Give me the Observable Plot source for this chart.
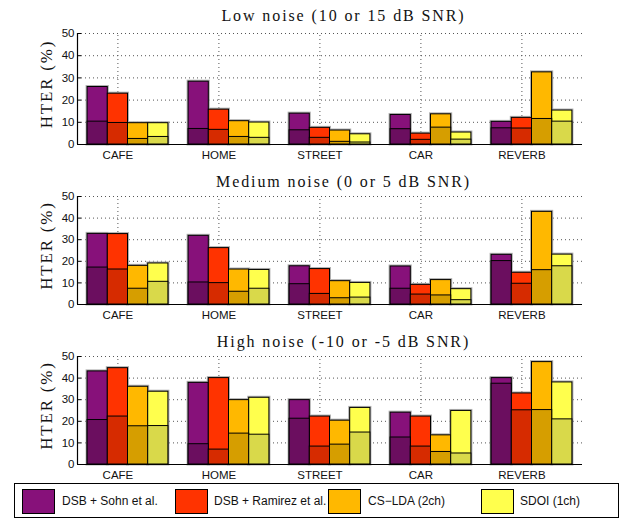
<!DOCTYPE html>
<html><head><meta charset="utf-8">
<script src="https://cdn.jsdelivr.net/npm/d3@7"></script>
<script src="https://cdn.jsdelivr.net/npm/@observablehq/plot@0.6"></script>
<style>
body{margin:0;background:#fff;}
#wrap{position:relative;width:624px;height:521px;background:#fff;}
#wrap svg{display:block;}
.legend{position:absolute;left:14px;top:483px;width:605px;height:35px;border:1px solid #000;box-sizing:border-box;background:#fff;}
.sw{position:absolute;top:5px;width:33px;height:25px;border:1px solid #000;box-sizing:border-box;}
.lt{position:absolute;top:10px;font:12px "Liberation Sans",Arial,sans-serif;color:#111;white-space:nowrap;}
</style>
</head><body><div id="wrap"></div>
<script>
const categories = ["CAFE","HOME","STREET","CAR","REVERB"];
const methods = ["DSB + Sohn et al.","DSB + Ramirez et al.","CS\u2212LDA (2ch)","SDOI (1ch)"];
const titles = ["Low noise (10 or 15 dB SNR)","Medium noise (0 or 5 dB SNR)","High noise (-10 or -5 dB SNR)"];
const yLabel = "HTER (%)";
const yTicks = [0,10,20,30,40,50];
const lightColors = ["#87117A","#FF3300","#FFB800","#FFFF4D"];
const darkColors = ["#6B0E5F","#D62B00","#D69E00","#D9D94A"];

// rows: methods; columns: categories
const lowTotal = [[25.9,28.3,13.9,13.3,10.2],[22.9,15.7,7.5,4.9,12.0],[9.6,10.5,6.3,13.6,32.5],[9.6,9.9,4.6,5.4,15.3]];
const lowInner = [[10.3,7.0,6.4,6.9,7.3],[9.7,6.6,3.0,2.1,7.2],[2.5,3.4,1.2,7.6,11.5],[3.4,3.0,0.9,2.2,10.3]];
const medTotal = [[32.7,31.8,17.7,17.6,23.0],[32.6,26.1,16.4,9.1,14.7],[17.9,16.2,10.8,11.3,42.9],[19.0,16.0,10.0,7.1,23.1]];
const medInner = [[17.1,10.2,9.4,7.3,20.1],[16.2,9.9,4.9,4.6,9.6],[7.3,5.9,2.9,4.2,15.9],[10.5,7.3,3.2,2.0,17.7]];
const highTotal = [[43.1,37.8,29.8,24.0,40.0],[44.6,40.0,22.2,22.2,32.9],[36.0,29.8,20.3,13.5,47.4],[33.7,30.9,26.2,24.8,38.0]];
const highInner = [[20.6,9.4,21.2,12.5,37.4],[22.2,6.9,8.3,8.3,25.1],[17.7,14.3,9.2,5.8,25.2],[17.8,13.8,14.8,5.1,20.9]];

const serif = "'Liberation Serif','DejaVu Serif',serif";

function panel(title, total, inner, o) {
  const rows = [];
  methods.forEach((m, si) => categories.forEach((c, gi) => {
    const xc = gi + 1 + (si - 1) * 0.2;
    rows.push({x1: xc - 0.1, x2: xc + 0.1, total: total[si][gi], inner: inner[si][gi],
      light: lightColors[si], dark: darkColors[si]});
  }));
  const xd = [0.6, 5.6];
  const svg = Plot.plot({
    width: 624, height: o.height,
    marginLeft: 77, marginRight: 42, marginTop: o.top, marginBottom: o.bottom,
    style: {fontFamily: "'Liberation Sans',Arial,sans-serif", fontSize: "11px", background: "white", overflow: "visible"},
    x: {domain: xd, axis: null},
    y: {domain: [0, 50], axis: null},
    color: {type: "identity"},
    marks: [
      Plot.ruleY(yTicks.slice(1), {x1: xd[0], x2: xd[1], stroke: "#555", strokeDasharray: "1,3"}),
      Plot.ruleX(categories.map((c, i) => i + 1), {y1: 0, y2: 50, stroke: "#555", strokeDasharray: "1,3"}),
      Plot.rectY(rows, {x1: "x1", x2: "x2", y: "total", fill: "none", stroke: "#b0b0b0", strokeWidth: 3}),
      Plot.rectY(rows, {x1: "x1", x2: "x2", y: "total", fill: "light", stroke: "#000", strokeWidth: 1}),
      Plot.rectY(rows, {x1: "x1", x2: "x2", y: "inner", fill: "dark", stroke: "#000", strokeWidth: 1}),
      Plot.ruleY([0], {x1: xd[0], x2: xd[1], stroke: "#000", strokeWidth: 1.2}),
      Plot.ruleX([xd[0]], {y1: 0, y2: 50, stroke: "#000", strokeWidth: 1.2}),
      Plot.ruleY(yTicks, {x1: xd[0], x2: xd[0] + 0.04, stroke: "#000"}),
      Plot.text(yTicks, {x: xd[0], y: d => d, text: d => String(d), textAnchor: "end", dx: -3, fontSize: 11.5, fill: "#111"}),
      Plot.text(categories, {x: (d, i) => i + 1, y: 0, text: d => d, dy: 11, fontSize: 11.5, fill: "#111"}),
      Plot.text([title], {frameAnchor: "top", lineAnchor: "middle", textAnchor: "middle", dx: 13.5, dy: o.tdy, text: d => d, fontFamily: serif, fontSize: 16, fill: "#111"}),
      Plot.text([yLabel], {frameAnchor: "left", textAnchor: "middle", lineAnchor: "middle", dx: -31, dy: -5, rotate: -90, text: d => d, fontFamily: serif, fontSize: 17, fill: "#111"})
    ]
  });
  d3.select(svg).selectAll("text").each(function() {
    const t = this.textContent;
    if (t === title) d3.select(this).style("letter-spacing", "1.9px");
    else if (t === yLabel) d3.select(this).style("letter-spacing", "1.8px");
  });
  return svg;
}

const wrap = document.getElementById("wrap");
wrap.appendChild(panel(titles[0], lowTotal, lowInner, {height: 165, top: 33, bottom: 21, tdy: -18}));
wrap.appendChild(panel(titles[1], medTotal, medInner, {height: 157, top: 31, bottom: 18, tdy: -15}));
wrap.appendChild(panel(titles[2], highTotal, highInner, {height: 160, top: 34, bottom: 18, tdy: -15}));

const leg = document.createElement("div");
leg.className = "legend";
const swX = [7, 160, 313, 466];
const txX = [47, 199, 353, 505];
methods.forEach((m, i) => {
  const s = document.createElement("div");
  s.className = "sw"; s.style.left = swX[i] + "px"; s.style.background = lightColors[i];
  leg.appendChild(s);
  const t = document.createElement("div");
  t.className = "lt"; t.style.left = txX[i] + "px"; t.textContent = m;
  leg.appendChild(t);
});
wrap.appendChild(leg);
</script></body></html>
